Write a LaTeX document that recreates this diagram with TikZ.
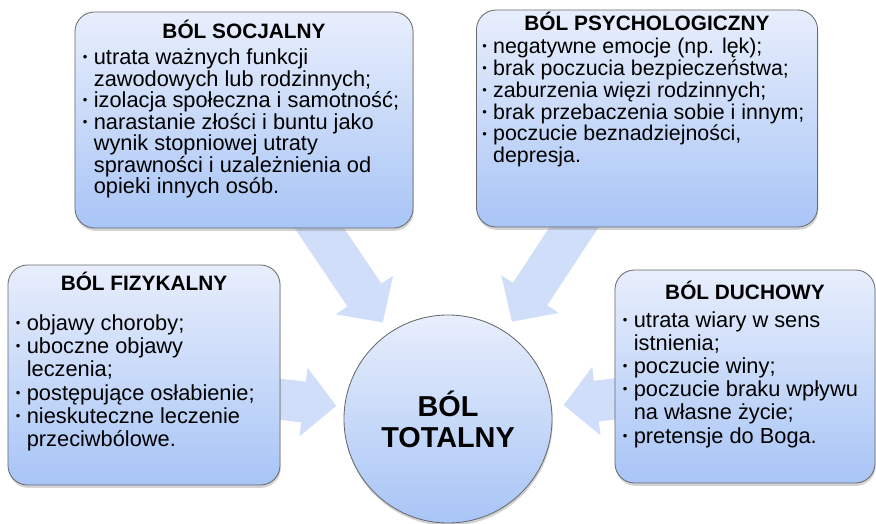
\documentclass[tikz,border=0pt]{standalone}
\usepackage{fontspec}
\setmainfont{Liberation Sans}
\usetikzlibrary{shapes, arrows.meta, positioning, calc, shadows, backgrounds}

\definecolor{boxtop}{RGB}{232, 238, 252}
\definecolor{boxbottom}{RGB}{168, 197, 246}
\definecolor{boxline}{RGB}{105, 105, 110}
\definecolor{arrowblue}{RGB}{208, 222, 249}

% punkt listy z wiszacym wcieciem
\newcommand{\pkt}[1]{\par\hangindent=0.5em\hangafter=1\noindent\makebox[0.5em][l]{\raisebox{0.25ex}{\scalebox{0.6}{\textbullet}}}#1}
% tytul bloku, [odstep pod nim]
\newcommand{\tytul}[2][4pt]{{\centering\bfseries\fontsize{14.8}{18}\selectfont #2\par}\vspace{#1}}

\tikzset{
  blok/.style={draw=boxline, line width=0.6pt, rounded corners=14pt, top color=boxtop, bottom color=boxbottom,
    inner xsep=0.2cm, inner ysep=0pt, font=\fontsize{15.5}{16.5}\selectfont,
    drop shadow={shadow xshift=0.5pt, shadow yshift=-2pt, opacity=0.35}},
  strzalka/.style={line width=1.025cm, draw=arrowblue, -{Triangle[width=1.675cm, length=0.825cm]}, shorten >=0.3cm}
}

\begin{document}
\begin{tikzpicture}[x=0.025cm, y=-0.025cm]
  \useasboundingbox (0,0) rectangle (876,524);

  \node[blok] (soc) at (244,120) {\parbox[c][5.4cm][t]{8.05cm}{\raggedright\vspace*{6pt}
    \tytul[3pt]{BÓL SOCJALNY}
    \fontsize{15.5}{15.3}\selectfont
    \pkt{utrata ważnych funkcji\newline zawodowych lub rodzinnych;}
    \pkt{izolacja społeczna i samotność;}
    \pkt{narastanie złości i buntu jako\newline wynik stopniowej utraty\newline sprawności i uzależnienia od\newline opieki innych osób.}}};

  \node[blok, inner xsep=0.15cm] (psy) at (647,118.5) {\parbox[c][5.425cm][t]{8.225cm}{\raggedright\vspace*{1.5pt}
    \tytul[1pt]{BÓL PSYCHOLOGICZNY}
    \fontsize{15.2}{15.5}\selectfont
    \pkt{negatywne emocje (np. lęk);}
    \pkt{brak poczucia bezpieczeństwa;}
    \pkt{zaburzenia więzi rodzinnych;}
    \pkt{brak przebaczenia sobie i innym;}
    \pkt{poczucie beznadziejności,\newline depresja.}}};

  \node[blok] (fiz) at (144,375) {\parbox[c][5.5cm][t]{6.4cm}{\raggedright\vspace*{5pt}
    \tytul[12pt]{BÓL FIZYKALNY}
    \pkt{objawy choroby;}
    \pkt{uboczne objawy\newline leczenia;}
    \pkt{postępujące osłabienie;}
    \pkt{nieskuteczne leczenie\newline przeciwbólowe.}}};

  \node[blok] (duch) at (745,376.5) {\parbox[c][5.325cm][t]{6.1cm}{\raggedright\vspace*{8pt}
    \tytul[3pt]{BÓL DUCHOWY}
    \pkt{utrata wiary w sens\newline istnienia;}
    \pkt{poczucie winy;}
    \pkt{poczucie braku wpływu\newline na własne życie;}
    \pkt{pretensje do Boga.}}};

  \node[circle, draw=boxline, line width=0.6pt, minimum size=5.2cm, top color=boxtop, bottom color=boxbottom,
    drop shadow={shadow xshift=0.5pt, shadow yshift=-2pt, opacity=0.35}, align=center,
    font=\bfseries\fontsize{20.5}{22}\selectfont] (tot) at (448,419) {BÓL\\TOTALNY};

  \begin{scope}[on background layer]
    \draw[strzalka] ([xshift=1.55cm, yshift=0.5cm]soc.south) -- (tot);
    \draw[strzalka] ([xshift=-1.5cm, yshift=0.5cm]psy.south) -- (tot);
    \draw[strzalka, shorten >=0.2cm] ([xshift=-0.5cm, yshift=-0.55cm]fiz.east) -- (tot);
    \draw[strzalka] ([xshift=0.5cm, yshift=-0.5cm]duch.west) -- (tot);
  \end{scope}
\end{tikzpicture}
\end{document}
